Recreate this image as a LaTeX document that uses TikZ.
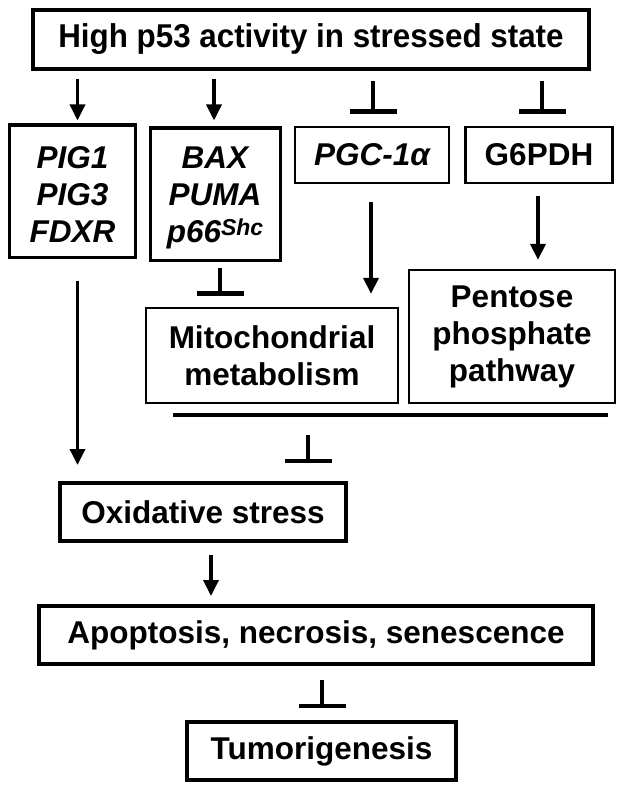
\documentclass[tikz,border=0pt]{standalone}
\usepackage{fontspec}
\setmainfont{Liberation Sans}
\newfontfamily\titlefont{Liberation Sans}[FakeStretch=0.95]
\usetikzlibrary{arrows.meta,calc}
\begin{document}
\begin{tikzpicture}[x=1bp,y=-1bp,
  every node/.style={inner sep=0pt, align=center, font=\bfseries\fontsize{31.5bp}{37bp}\selectfont},
  thickbox/.style={draw, line width=4bp},
  medbox/.style={draw, line width=3bp},
  thinbox/.style={draw, line width=2.3bp},
  arr/.style={line width=3.5bp, -{Triangle[width=15bp,length=16bp]}},
  inh/.style={line width=3.5bp, -{Bar[width=47bp,line width=4.5bp]}}]
\useasboundingbox (0,0) rectangle (624,792);
\fill[white] (0,0) rectangle (624,792);

\node[thickbox, minimum width=556bp, minimum height=58bp, font=\titlefont\bfseries\fontsize{33bp}{37bp}\selectfont] (top) at (311,39.5) {High p53 activity in stressed state};
\node[medbox, minimum width=125bp, minimum height=132bp] (pig) at (72.5,191) {\rule{0pt}{29bp}\itshape PIG1\\\itshape PIG3\\\itshape FDXR};
\node[medbox, minimum width=130bp, minimum height=132bp] (bax) at (215,194) {\rule{0pt}{29bp}\itshape BAX\\\itshape PUMA\\\itshape p66\raisebox{7bp}{\fontsize{23bp}{23bp}\selectfont Shc}};
\node[thinbox, minimum width=154bp, minimum height=56bp] (pgc) at (372,155) {\itshape PGC-1α};
\node[thinbox, minimum width=147bp, minimum height=56bp] (g6) at (539,155) {G6PDH};
\node[thinbox, minimum width=252bp, minimum height=95bp] (mito) at (272,355.5) {Mitochondrial\\metabolism};
\node[thinbox, minimum width=206bp, minimum height=133bp] (ppp) at (512,336.5) {Pentose\\phosphate\\pathway};
\node[thickbox, minimum width=286bp, minimum height=58bp] (ox) at (203,512) {Oxidative stress};
\node[thickbox, minimum width=554bp, minimum height=58bp] (apo) at (316,635) {Apoptosis, necrosis, senescence};
\node[thickbox, minimum width=269bp, minimum height=58bp] (tum) at (321.5,751) {Tumorigenesis};

% bar under metabolism boxes
\coordinate (barL) at (173,415);
\coordinate (barR) at (608,415);
\draw[line width=4bp] (barL) -- (barR);

% connectors
\draw[arr, shorten <=8bp, shorten >=3bp] ([xshift=5bp]pig.north |- top.south) -- ([xshift=5bp]pig.north);
\draw[arr, shorten <=8bp, shorten >=6bp] ([xshift=-1bp]bax.north |- top.south) -- ([xshift=-1bp]bax.north);
\draw[inh, shorten <=10bp, shorten >=12bp] ([xshift=1bp]pgc.north |- top.south) -- ([xshift=1bp]pgc.north);
\draw[inh, shorten <=10bp, shorten >=12bp] ([xshift=3bp]g6.north |- top.south) -- ([xshift=3bp]g6.north);
\draw[arr, shorten <=18bp, shorten >=13bp] ([xshift=-1bp]pgc.south) -- ([xshift=-1bp]pgc.south |- mito.north);
\draw[arr, shorten <=12bp, shorten >=9bp] ([xshift=-1bp]g6.south) -- ([xshift=-1bp]g6.south |- ppp.north);
\draw[inh, shorten <=6bp, shorten >=11bp] ([xshift=5bp]bax.south) -- ([xshift=5bp]bax.south |- mito.north);
\draw[arr, shorten <=22bp, shorten >=16bp] ([xshift=5bp]pig.south) -- ([xshift=5bp]pig.south |- ox.north);
\coordinate (inhS) at (308,415);
\draw[inh, shorten <=20bp, shorten >=18bp] (inhS) -- (inhS |- ox.north);
\draw[arr, shorten <=12bp, shorten >=8bp] ([xshift=8bp]ox.south) -- ([xshift=8bp]ox.south |- apo.north);
\draw[inh, shorten <=14bp, shorten >=12bp] ([xshift=6bp]apo.south) -- ([xshift=6bp]apo.south |- tum.north);
\end{tikzpicture}
\end{document}
